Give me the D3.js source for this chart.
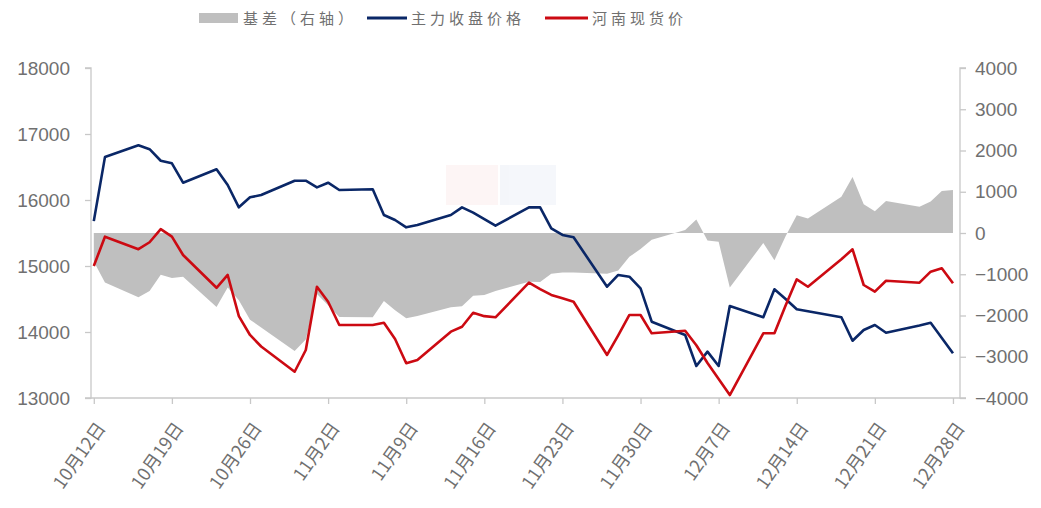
<!DOCTYPE html>
<html><head><meta charset="utf-8">
<script src="https://cdn.jsdelivr.net/npm/d3@7/dist/d3.min.js"></script>
<style>
html,body{margin:0;padding:0;background:#fff;}
svg{display:block;}
</style></head>
<body>
<svg id="c" width="1041" height="508"></svg>
<script>
// ---- data (2023 trading days) ----
const dates = ["2023-10-12","2023-10-13","2023-10-16","2023-10-17","2023-10-18","2023-10-19","2023-10-20",
"2023-10-23","2023-10-24","2023-10-25","2023-10-26","2023-10-27","2023-10-30","2023-10-31",
"2023-11-01","2023-11-02","2023-11-03","2023-11-06","2023-11-07","2023-11-08","2023-11-09","2023-11-10",
"2023-11-13","2023-11-14","2023-11-15","2023-11-16","2023-11-17","2023-11-20","2023-11-21","2023-11-22",
"2023-11-23","2023-11-24","2023-11-27","2023-11-28","2023-11-29","2023-11-30","2023-12-01",
"2023-12-04","2023-12-05","2023-12-06","2023-12-07","2023-12-08","2023-12-11","2023-12-12","2023-12-13",
"2023-12-14","2023-12-15","2023-12-18","2023-12-19","2023-12-20","2023-12-21","2023-12-22",
"2023-12-25","2023-12-26","2023-12-27","2023-12-28"];
const futures = [15680,16650,16830,16770,16595,16556,16262,
16465,16227,15889,16041,16076,16292,16292,
16192,16262,16152,16162,15773,15697,15586,15620,
15773,15889,15808,15710,15611,15889,15889,15571,
15470,15435,14686,14864,14838,14662,14156,
13955,13485,13702,13485,14394,14223,14647,14500,
14344,14315,14223,13868,14030,14106,13989,
14098,14141,13909,13677];
const spot = [15000,15444,15255,15360,15558,15444,15167,
14670,14864,14240,13955,13780,13398,13727,
14686,14459,14106,14106,14141,13894,13526,13576,
14005,14080,14292,14240,14223,14747,14650,14561,
14510,14459,13652,13950,14258,14258,13980,
14020,13800,13530,13288,13045,13980,13980,14400,
14798,14686,15102,15253,14712,14611,14777,
14747,14914,14965,14738];
const basis = [-690,-1200,-1560,-1405,-1010,-1090,-1060,
-1795,-1320,-1630,-2100,-2290,-2860,-2580,
-1480,-1750,-2035,-2040,-1650,-1870,-2065,-2010,
-1800,-1775,-1520,-1500,-1405,-1180,-1190,-990,
-960,-955,-990,-910,-578,-390,-165,
70,325,-180,-215,-1320,-245,-660,-80,
430,350,880,1360,700,530,775,
635,765,1020,1040];
const leftTicks = [13000,14000,15000,16000,17000,18000];
const rightTicks = [-4000,-3000,-2000,-1000,0,1000,2000,3000,4000];
const tickDates = ["2023-10-12","2023-10-19","2023-10-26","2023-11-02","2023-11-09","2023-11-16",
"2023-11-23","2023-11-30","2023-12-07","2023-12-14","2023-12-21","2023-12-28"];
const seriesNames = ["基差（右轴）","主力收盘价格","河南现货价"];

// ---- chart ----
const parse = d3.timeParse("%Y-%m-%d");
const DAY = 86400000;
const rows = dates.map((d,i)=>({t:parse(d), f:futures[i], s:spot[i], b:basis[i]}));
const svg = d3.select("#c");
const L = 91, R = 960, T = 68, B = 398;
const x = d3.scaleTime()
  .domain([new Date(parse(dates[0]).getTime()-0.25*DAY), new Date(parse(dates[dates.length-1]).getTime()+0.63*DAY)])
  .range([L, R]);
const yL = d3.scaleLinear().domain([13000,18000]).range([B,T]);
const yR = d3.scaleLinear().domain([-4000,4000]).range([B,T]);

const axisColor = "#c8c8c8";
const textColor = "#707070";
const font = "'Noto Sans CJK SC', 'Liberation Sans', sans-serif";
const numFont = "'Liberation Sans', 'Noto Sans', sans-serif";

// watermark
const wm = svg.append("g").attr("opacity",0.05);
wm.append("rect").attr("x",446).attr("y",165).attr("width",52).attr("height",40).attr("fill","#e05050");
wm.append("rect").attr("x",500).attr("y",165).attr("width",56).attr("height",40).attr("fill","#4060b0");

// basis area
svg.append("path").datum(rows)
  .attr("fill","#bfbfbf")
  .attr("d", d3.area().x(d=>x(d.t)).y0(yR(0)).y1(d=>yR(d.b)));

// axes
const gL = svg.append("g").attr("transform",`translate(${L},0)`)
  .call(d3.axisLeft(yL).tickValues(leftTicks).tickSize(6).tickPadding(15).tickFormat(d3.format("d")));
const gR = svg.append("g").attr("transform",`translate(${R},0)`)
  .call(d3.axisRight(yR).tickValues(rightTicks).tickSize(6).tickPadding(9).tickFormat(d3.format("d")));
const gX = svg.append("g").attr("transform",`translate(0,${B})`)
  .call(d3.axisBottom(x).tickValues(tickDates.map(parse)).tickSize(6).tickFormat(d=>(d.getMonth()+1)+"月"+d.getDate()+"日"));
[gL,gR,gX].forEach(g=>{
  g.select(".domain").attr("stroke",axisColor).attr("stroke-width",1.3);
  g.selectAll(".tick line").attr("stroke",axisColor).attr("stroke-width",1.3);
  g.selectAll("text").attr("fill",textColor).style("font-family",numFont).style("font-size","19px");
});
gL.select(".domain").attr("d",`M-6,${T}H0V${B}H-6`);
gR.select(".domain").attr("d",`M6,${T}H0V${B}H6`);
gX.select(".domain").attr("d",`M${L},0H${R}`);
gX.selectAll("text")
  .attr("text-anchor","end")
  .attr("dy","0")
  .attr("y",0)
  .attr("transform","translate(12,30) rotate(-55)")
  .style("font-family",font)
  .style("font-size","18px");

// lines
svg.append("path").datum(rows)
  .attr("fill","none").attr("stroke","#0a2767").attr("stroke-width",2.6).attr("stroke-linejoin","round")
  .attr("d", d3.line().x(d=>x(d.t)).y(d=>yL(d.f)));
svg.append("path").datum(rows)
  .attr("fill","none").attr("stroke","#cc0a12").attr("stroke-width",2.6).attr("stroke-linejoin","round")
  .attr("d", d3.line().x(d=>x(d.t)).y(d=>yL(d.s)));

// legend
const lg = svg.append("g").style("font-family",font).style("font-size","15px");
lg.append("rect").attr("x",199).attr("y",13).attr("width",39).attr("height",10).attr("fill","#bfbfbf");
lg.append("text").attr("x",243).attr("y",24).attr("fill",textColor).attr("letter-spacing","4px").text(seriesNames[0]);
lg.append("line").attr("x1",367).attr("x2",407).attr("y1",18).attr("y2",18).attr("stroke","#0a2767").attr("stroke-width",3);
lg.append("text").attr("x",411).attr("y",24).attr("fill",textColor).attr("letter-spacing","4px").text(seriesNames[1]);
lg.append("line").attr("x1",545).attr("x2",588).attr("y1",18).attr("y2",18).attr("stroke","#cc0a12").attr("stroke-width",3);
lg.append("text").attr("x",592).attr("y",24).attr("fill",textColor).attr("letter-spacing","4px").text(seriesNames[2]);
</script>
</body></html>
